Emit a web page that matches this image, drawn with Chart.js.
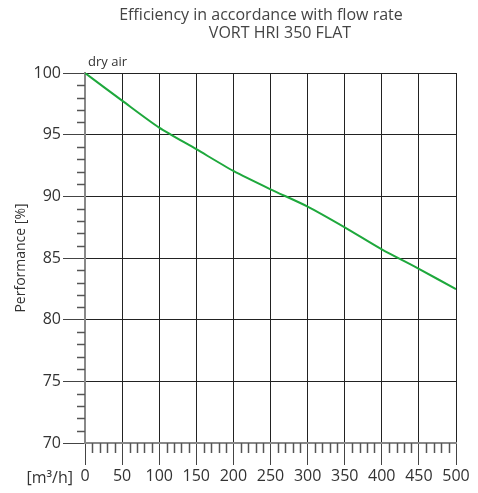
<!DOCTYPE html>
<html>
<head>
<meta charset="utf-8">
<script src="https://cdn.jsdelivr.net/npm/chart.js@4"></script>
<style>
html,body{margin:0;padding:0;background:#fff;}
#wrap{width:478px;height:493px;position:relative;}
</style>
</head>
<body>
<div id="wrap"><canvas id="c" width="478" height="493"></canvas></div>
<script>
const flowRates = [0, 50, 100, 150, 200, 250, 300, 350, 400, 450, 500];
const performance = [100, 97.76, 95.57, 93.82, 92.06, 90.57, 89.17, 87.49, 85.7, 84.12, 82.47];
const titleLines = ['Efficiency in accordance with flow rate', 'VORT HRI 350 FLAT'];
const seriesLabel = 'dry air';
const xUnitLabel = '[m³/h]';
const yAxisTitle = 'Performance [%]';
const xRange = [0, 500];
const yRange = [70, 100];

const FONT = "'Open Sans', sans-serif";

const extras = {
  id: 'extras',
  afterDraw(chart) {
    const ctx = chart.ctx;
    const xs = chart.scales.x, ys = chart.scales.y;
    const area = chart.chartArea;
    ctx.save();
    // title
    ctx.fillStyle = '#444';
    ctx.font = "16px " + FONT;
    ctx.textAlign = 'center';
    ctx.textBaseline = 'middle';
    ctx.fillText(titleLines[0], 261, 15);
    ctx.fillText(titleLines[1], 280, 33);
    // minor ticks on y axis
    ctx.strokeStyle = '#555';
    ctx.lineWidth = 1.5;
    for (let v = yRange[0]; v <= yRange[1]; v += 1) {
      if (v % 5 === 0) continue;
      const y = Math.round(ys.getPixelForValue(v)) + 0.5;
      ctx.beginPath();
      ctx.moveTo(area.left - 8, y);
      ctx.lineTo(area.left, y);
      ctx.stroke();
    }
    // minor ticks on x axis
    for (let v = xRange[0]; v <= xRange[1]; v += 10) {
      if (v % 50 === 0) continue;
      const x = Math.round(xs.getPixelForValue(v)) + 0.5;
      ctx.beginPath();
      ctx.moveTo(x, area.bottom);
      ctx.lineTo(x, area.bottom + 10);
      ctx.stroke();
    }
    // unit label
    ctx.fillStyle = '#333';
    ctx.font = "16px " + FONT;
    ctx.textAlign = 'right';
    ctx.textBaseline = 'middle';
    ctx.fillText(xUnitLabel, area.left - 12, 478);
    // series label
    ctx.font = "13px " + FONT;
    ctx.textAlign = 'left';
    ctx.textBaseline = 'alphabetic';
    ctx.fillStyle = '#333';
    ctx.fillText(seriesLabel, area.left + 3, 66);
    ctx.restore();
  }
};

new Chart(document.getElementById('c'), {
  type: 'line',
  data: {
    datasets: [{
      label: seriesLabel,
      data: flowRates.map((x, i) => ({x: x, y: performance[i]})),
      borderColor: '#1ea83c',
      borderWidth: 2,
      pointRadius: 0,
      tension: 0.25,
      fill: false
    }]
  },
  options: {
    responsive: false,
    animation: false,
    devicePixelRatio: 1,
    layout: { padding: { left: 0, right: 22, top: 73, bottom: 0 } },
    plugins: {
      legend: { display: false },
      tooltip: { enabled: false },
      title: { display: false }
    },
    scales: {
      x: {
        type: 'linear',
        min: xRange[0], max: xRange[1],
        afterFit(s) { s.height = 50; },
        ticks: { stepSize: 50, color: '#333', font: { family: FONT, size: 16 }, padding: 2, maxRotation: 0, autoSkip: false },
        grid: { color: '#222', lineWidth: 1, tickLength: 22, tickColor: '#444' },
        border: { color: '#888', width: 2 }
      },
      y: {
        min: yRange[0], max: yRange[1],
        afterFit(s) { s.width = 85; },
        ticks: { stepSize: 5, color: '#333', font: { family: FONT, size: 16 }, padding: 2 },
        grid: { color: '#222', lineWidth: 1, tickLength: 22, tickColor: '#444' },
        border: { color: '#888', width: 2 },
        title: { display: true, text: yAxisTitle, color: '#333', font: { family: FONT, size: 14 }, padding: { top: 13, bottom: 0 } }
      }
    }
  },
  plugins: [extras]
});
</script>
</body>
</html>
